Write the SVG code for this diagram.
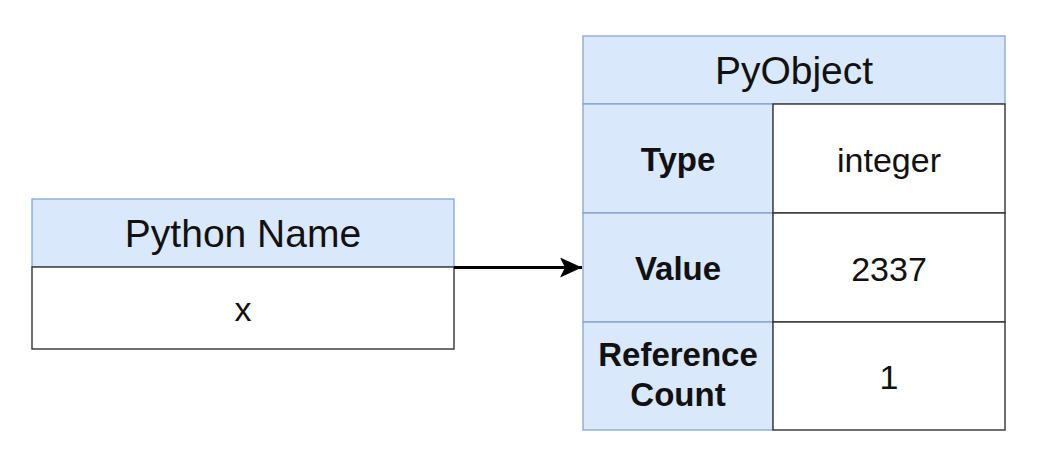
<svg xmlns="http://www.w3.org/2000/svg" width="1040" height="472" viewBox="0 0 1040 472">
  <style>
    .hdr { fill: #dae8fc; stroke: #7e9fcf; stroke-width: 1.2; }
    .cell { fill: #ffffff; stroke: #333333; stroke-width: 1.4; }
    text { font-family: "Liberation Sans", Arial, sans-serif; fill: #111111; text-anchor: middle; }
    .title { font-size: 39px; }
    .val { font-size: 34px; }
    .lbl { font-size: 33px; font-weight: bold; }
  </style>
  <defs>
    <marker id="arrow" viewBox="0 0 10 10" refX="9" refY="5" markerWidth="7.5" markerHeight="7.5" markerUnits="userSpaceOnUse" orient="auto">
      <path d="M0,0 L10,5 L0,10 L2.5,5 Z" fill="#000000"/>
    </marker>
    <marker id="arrowBig" viewBox="0 0 22 20" refX="22" refY="10" markerWidth="22" markerHeight="20" markerUnits="userSpaceOnUse" orient="auto">
      <path d="M0,0 L22,10 L0,20 L5,10 Z" fill="#000000"/>
    </marker>
  </defs>
  <rect width="1040" height="472" fill="#ffffff"/>

  <g id="python-name">
    <rect class="hdr" x="32" y="199" width="422" height="68"/>
    <rect class="cell" x="32" y="267" width="422" height="82"/>
    <text class="title" x="243" y="247">Python Name</text>
    <text class="val" x="243" y="321">x</text>
  </g>

  <g id="pyobject">
    <rect class="hdr" x="583" y="36" width="422" height="68"/>
    <rect class="hdr" x="583" y="104" width="190" height="109"/>
    <rect class="hdr" x="583" y="213" width="190" height="109"/>
    <rect class="hdr" x="583" y="322" width="190" height="108"/>
    <rect class="cell" x="773" y="104" width="232" height="109"/>
    <rect class="cell" x="773" y="213" width="232" height="109"/>
    <rect class="cell" x="773" y="322" width="232" height="108"/>
    <text class="title" x="794" y="84">PyObject</text>
    <text class="lbl" x="678" y="171">Type</text>
    <text class="val" x="889" y="172">integer</text>
    <text class="lbl" x="678" y="280">Value</text>
    <text class="val" x="889" y="281">2337</text>
    <text class="lbl" x="678" y="366">Reference</text>
    <text class="lbl" x="678" y="406">Count</text>
    <text class="val" x="889" y="389">1</text>
  </g>

  <g id="connectors">
    <path d="M454,267.5 L582,267.5" stroke="#000000" stroke-width="3" fill="none" marker-end="url(#arrowBig)"/>
  </g>
</svg>
